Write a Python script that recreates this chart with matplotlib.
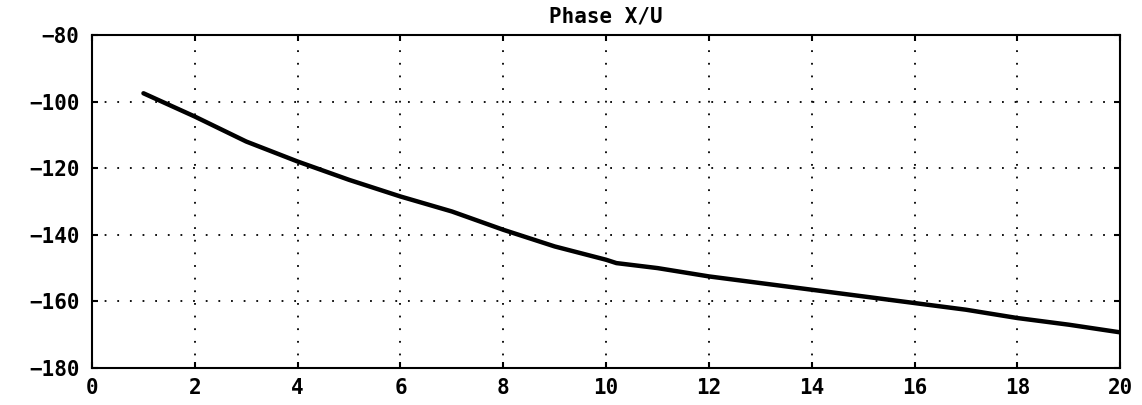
"""
Phase X/U 曲线
"""
import matplotlib
matplotlib.use('Agg')
import matplotlib.pyplot as plt

# 读取的数据点
freq = [1, 1.5, 2, 3, 4, 5, 6, 7, 8, 9, 10, 10.2, 11, 12, 13, 14, 15, 16, 17, 18, 19, 20]
phase = [-97.5, -101, -104.5, -112, -118, -123.5, -128.5, -133, -138.5, -143.5, -147.5,
         -148.5, -150, -152.5, -154.5, -156.5, -158.5, -160.5, -162.5, -165, -167, -169.3]
xticks = [0, 2, 4, 6, 8, 10, 12, 14, 16, 18, 20]
yticks = [-180, -160, -140, -120, -100, -80]

plt.rcParams['font.family'] = ['DejaVu Sans Mono']
plt.rcParams['font.weight'] = 'bold'

fig = plt.figure(figsize=(11.42, 4.05), dpi=100)
ax = fig.add_axes([0.0806, 0.0914, 0.9003, 0.8222])

ax.plot(freq, phase, color='black', lw=3.2, solid_capstyle='round')

ax.set_xlim(0, 20)
ax.set_ylim(-180, -80)
ax.set_xticks(xticks)
ax.set_yticks(yticks)
ax.set_xticklabels([str(t) for t in xticks], fontsize=15, fontweight='bold')
ax.set_yticklabels([str(t).replace('-', '\u2212') for t in yticks], fontsize=15, fontweight='bold')
ax.tick_params(direction='in', length=4, width=1.5, top=True, right=True)
ax.tick_params(axis='x', pad=7)
ax.tick_params(axis='y', pad=9)
for s in ax.spines.values():
    s.set_linewidth(1.5)

ax.grid(True, color='black', linestyle=(0, (1, 6)), linewidth=1.3)
ax.set_title('Phase X/U', fontsize=15, fontweight='bold', pad=9)

fig.savefig('out.png', dpi=100)
